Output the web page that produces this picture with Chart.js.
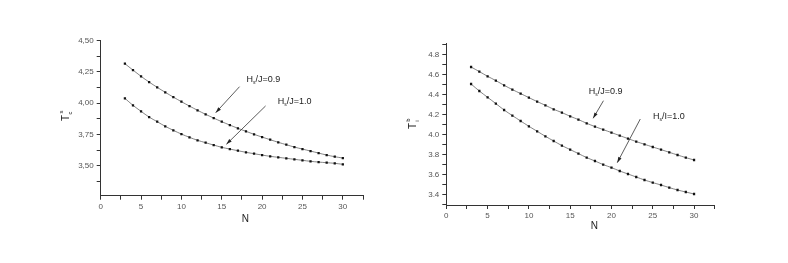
<!DOCTYPE html>
<html>
<head>
<meta charset="utf-8">
<script src="https://cdn.jsdelivr.net/npm/chart.js@4/dist/chart.umd.min.js"></script>
<style>
  body { margin: 0; background: #fff; }
  .box { position: absolute; top: 0; width: 394px; height: 263px; }
</style>
</head>
<body>
<div class="box" style="left:0"><canvas id="leftChart" width="394" height="263"></canvas></div>
<div class="box" style="left:394px"><canvas id="rightChart" width="394" height="263"></canvas></div>
<script>
// valeurs de N (axe x)
const nValues = [3,4,5,6,7,8,9,10,11,12,13,14,15,16,17,18,19,20,21,22,23,24,25,26,27,28,29,30];

// graphe de gauche : T_c^s
const leftHs09 = [4.316,4.265,4.215,4.169,4.127,4.087,4.049,4.012,3.977,3.943,3.911,3.881,3.852,3.825,
                  3.799,3.775,3.751,3.729,3.708,3.687,3.668,3.649,3.633,3.617,3.601,3.585,3.572,3.561];
const leftHs10 = [4.039,3.983,3.935,3.889,3.852,3.815,3.783,3.753,3.727,3.703,3.684,3.665,3.647,3.633,
                  3.620,3.607,3.596,3.585,3.575,3.567,3.559,3.551,3.543,3.535,3.529,3.524,3.519,3.511];

// graphe de droite : T_i^b
const rightHs09 = [4.673,4.627,4.580,4.537,4.490,4.447,4.407,4.367,4.327,4.290,4.250,4.217,4.180,4.147,
                   4.110,4.077,4.047,4.017,3.987,3.957,3.927,3.900,3.873,3.847,3.820,3.793,3.767,3.743];
const rightHs10 = [4.503,4.433,4.370,4.307,4.243,4.187,4.133,4.080,4.030,3.980,3.933,3.887,3.847,3.807,
                   3.767,3.733,3.697,3.667,3.633,3.603,3.573,3.543,3.517,3.493,3.467,3.443,3.423,3.403];

// etiquettes des axes
const xTicks = [0,2.5,5,7.5,10,12.5,15,17.5,20,22.5,25,27.5,30,32.5];
const xLabels = [0,5,10,15,20,25,30];
const leftYTicks = [3.375,3.5,3.625,3.75,3.875,4,4.125,4.25,4.375,4.5];
const leftYLabels = ['3,50','3,75','4,00','4,25','4,50'];
const rightYTicks = [3.3,3.4,3.5,3.6,3.7,3.8,3.9,4.0,4.1,4.2,4.3,4.4,4.5,4.6,4.7,4.8,4.9];
const rightYLabels = ['3.4','3.6','3.8','4.0','4.2','4.4','4.6','4.8'];

// annotations : texte + fleche (en unites des donnees)
const leftNotes = [
  { text: 'J=0.9', lx: 18.05, ly: 4.186, x1: 17.2, y1: 4.132, x2: 14.25, y2: 3.924 },
  { text: 'J=1.0', lx: 21.95, ly: 4.012, x1: 20.43, y1: 3.978, x2: 15.57, y2: 3.671 }
];
const rightNotes = [
  { text: 'J=0.9', lx: 17.25, ly: 4.426, x1: 19.03, y1: 4.336, x2: 17.78, y2: 4.16 },
  { text: 'I=1.0', lx: 25.02, ly: 4.176, x1: 23.49, y1: 4.153, x2: 20.70, y2: 3.716 }
];

const FONT = '"Liberation Sans", Arial, sans-serif';

// plugin pour dessiner les fleches, les textes et les titres des axes
const notesPlugin = {
  id: 'notes',
  afterDraw(chart, args, opts) {
    const ctx = chart.ctx;
    const xs = chart.scales.x, ys = chart.scales.y;
    ctx.save();
    ctx.fillStyle = '#222';
    ctx.strokeStyle = '#333';
    ctx.lineWidth = 0.8;
    opts.notes.forEach(n => {
      const ax = xs.getPixelForValue(n.x1), ay = ys.getPixelForValue(n.y1);
      const bx = xs.getPixelForValue(n.x2), by = ys.getPixelForValue(n.y2);
      ctx.beginPath();
      ctx.moveTo(ax, ay);
      ctx.lineTo(bx, by);
      ctx.stroke();
      const ang = Math.atan2(by - ay, bx - ax);
      ctx.beginPath();
      ctx.moveTo(bx, by);
      ctx.lineTo(bx - 6 * Math.cos(ang - 0.3), by - 6 * Math.sin(ang - 0.3));
      ctx.lineTo(bx - 6 * Math.cos(ang + 0.3), by - 6 * Math.sin(ang + 0.3));
      ctx.closePath();
      ctx.fill();
      // texte H_s/...
      let tx = xs.getPixelForValue(n.lx), ty = ys.getPixelForValue(n.ly);
      ctx.textBaseline = 'middle';
      ctx.textAlign = 'left';
      ctx.font = '9px ' + FONT;
      ctx.fillText('H', tx, ty);
      tx += ctx.measureText('H').width;
      ctx.font = '5px ' + FONT;
      ctx.fillText('s', tx, ty + 3);
      tx += ctx.measureText('s').width;
      ctx.font = '9px ' + FONT;
      ctx.fillText('/' + n.text, tx, ty);
    });
    // titre axe x
    ctx.font = '10px ' + FONT;
    ctx.textAlign = 'left';
    ctx.fillText('N', opts.nPos[0], opts.nPos[1]);
    // titre axe y (tourne)
    ctx.translate(opts.tPos[0], opts.tPos[1]);
    ctx.rotate(-Math.PI / 2);
    ctx.textAlign = 'center';
    ctx.font = '10px ' + FONT;
    ctx.fillText('T', 0, 0);
    ctx.font = '6px ' + FONT;
    ctx.fillText(opts.sup, 6, -5);
    ctx.fillText(opts.sub, 5, 4);
    ctx.restore();
  }
};

function makeChart(id, s09, s10, yTicks, yLabels, yMin, yMax, layout, notes, titles) {
  const ctx = document.getElementById(id).getContext('2d');
  const serie = vals => ({
    data: nValues.map((n, i) => ({ x: n, y: vals[i] })),
    showLine: true,
    borderColor: '#666',
    borderWidth: 0.8,
    tension: 0.3,
    pointStyle: 'rect',
    pointRadius: 1.6,
    pointBackgroundColor: '#111',
    pointBorderColor: '#111',
    pointBorderWidth: 0
  });
  return new Chart(ctx, {
    type: 'scatter',
    data: { datasets: [serie(s09), serie(s10)] },
    options: {
      responsive: false,
      animation: false,
      layout: { padding: { left: 0, top: layout.top, right: layout.right, bottom: 0 } },
      plugins: {
        legend: { display: false },
        tooltip: { enabled: false },
        notes: { notes: notes, nPos: titles.n, tPos: titles.t, sup: titles.sup, sub: titles.sub }
      },
      scales: {
        x: {
          type: 'linear', min: 0, max: 32.5,
          afterFit: s => { s.height = layout.xh; },
          afterBuildTicks: s => { s.ticks = xTicks.map(v => ({ value: v })); },
          border: { display: true, color: '#333', width: 1 },
          grid: { drawOnChartArea: false, drawTicks: true, tickLength: 4, color: '#333' },
          ticks: {
            color: '#555', font: { size: 8, family: FONT }, padding: 2, maxRotation: 0, autoSkip: false,
            callback: v => xLabels.includes(v) ? String(v) : ''
          }
        },
        y: {
          type: 'linear', min: yMin, max: yMax,
          afterFit: s => { s.width = layout.yw; },
          afterBuildTicks: s => { s.ticks = yTicks.map(v => ({ value: v })); },
          border: { display: true, color: '#333', width: 1 },
          grid: { drawOnChartArea: false, drawTicks: true, tickLength: 4, color: '#333' },
          ticks: {
            color: '#555', font: { size: 8, family: FONT }, padding: 3, autoSkip: false,
            callback: v => {
              const lab = yLabels.find(l => Math.abs(parseFloat(l.replace(',', '.')) - v) < 1e-6);
              return lab || '';
            }
          }
        }
      }
    },
    plugins: [notesPlugin]
  });
}

makeChart('leftChart', leftHs09, leftHs10, leftYTicks, leftYLabels, 3.26, 4.5,
  { top: 40.7, right: 31, xh: 67.3, yw: 100.7 }, leftNotes,
  { n: [241.7, 219], t: [66, 118], sup: 's', sub: 'c' });

makeChart('rightChart', rightHs09, rightHs10, rightYTicks, rightYLabels, 3.293, 4.91,
  { top: 43.3, right: 73.3, xh: 58, yw: 52.3 }, rightNotes,
  { n: [196.7, 226.7], t: [19, 126], sup: 'b', sub: 'i' });
</script>
</body>
</html>
